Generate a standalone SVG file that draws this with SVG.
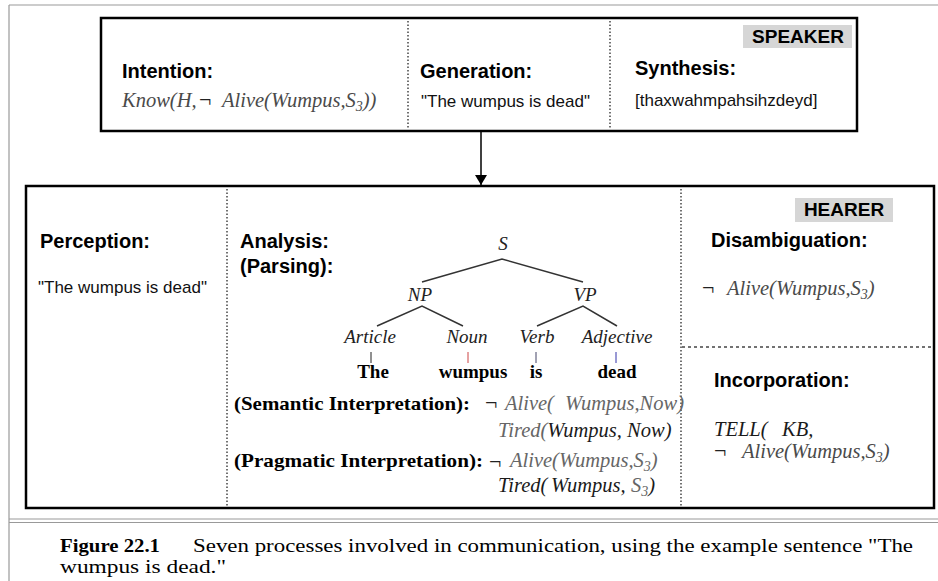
<svg xmlns="http://www.w3.org/2000/svg" width="938" height="581" viewBox="0 0 938 581">
  <style>
    .frame { fill: none; stroke: #000; stroke-width: 2.5; }
    .page { fill: none; stroke: #999; stroke-width: 1.2; }
    .dot { fill: none; stroke: #444; stroke-width: 1.5; stroke-dasharray: 1.5 2; }
    .dash { fill: none; stroke: #444; stroke-width: 1.3; stroke-dasharray: 3 3; }
    .tree { fill: none; stroke: #333; stroke-width: 1.5; }
    .head { font-family: "Liberation Sans", Arial, sans-serif; font-weight: bold; font-size: 20px; fill: #000; }
    .tag { font-family: "Liberation Sans", Arial, sans-serif; font-weight: bold; font-size: 19px; fill: #000; text-anchor: middle; }
    .tagbg { fill: #d6d6d6; }
    .body { font-family: "Liberation Sans", Arial, sans-serif; font-size: 17px; fill: #111; }
    .f { font-family: "Liberation Serif", "Times New Roman", serif; font-style: italic; font-size: 20.5px; fill: #4a4a4a; }
    .fd { fill: #1a1a1a; }
    .neg { font-family: "Liberation Serif", "Times New Roman", serif; font-style: normal; font-size: 22px; fill: #222; }
    .sub { font-size: 14px; }
    .node { font-family: "Liberation Serif", "Times New Roman", serif; font-style: italic; font-size: 19px; fill: #222; text-anchor: middle; }
    .word { font-family: "Liberation Serif", "Times New Roman", serif; font-weight: bold; font-size: 19px; fill: #000; text-anchor: middle; }
    .bt { font-family: "Liberation Serif", "Times New Roman", serif; font-weight: bold; font-size: 19px; fill: #000; }
    .cap { font-family: "Liberation Serif", "Times New Roman", serif; font-size: 18px; fill: #000; }
  </style>
  <defs>
    <marker id="arrow" viewBox="0 0 10 12" refX="10" refY="6" markerWidth="10" markerHeight="12" markerUnits="userSpaceOnUse" orient="auto">
      <path d="M0,0 L10,6 L0,12 Z" fill="#000"/>
    </marker>
  </defs>

  <!-- page frame -->
  <g id="page">
    <line class="page" x1="9" y1="5" x2="9" y2="581"/>
    <line class="page" x1="9" y1="5" x2="938" y2="5"/>
    <line class="page" x1="9" y1="519" x2="938" y2="519" stroke="#888"/>
    <line class="page" x1="9" y1="522.5" x2="938" y2="522.5" stroke="#888"/>
  </g>

  <!-- speaker side -->
  <g id="speaker">
    <rect class="frame" x="101" y="18" width="756" height="113"/>
    <line class="dot" x1="408" y1="21" x2="408" y2="129"/>
    <line class="dot" x1="610" y1="21" x2="610" y2="129"/>
    <rect class="tagbg" x="743" y="25" width="109" height="23"/>
    <text class="tag" x="798" y="43">SPEAKER</text>
  </g>

  <g id="intention">
    <text class="head" x="122" y="78">Intention:</text>
    <text class="f" x="122" y="107">Know(H,<tspan class="neg" x="199">¬</tspan><tspan x="222">Alive(Wumpus,S</tspan><tspan class="sub" dy="4">3</tspan><tspan dy="-4">))</tspan></text>
  </g>

  <g id="generation">
    <text class="head" x="420" y="78">Generation:</text>
    <text class="body" x="421" y="107">"The wumpus is dead"</text>
  </g>

  <g id="synthesis">
    <text class="head" x="635" y="75">Synthesis:</text>
    <text class="body" x="635" y="106">[thaxwahmpahsihzdeyd]</text>
  </g>

  <!-- hearer side -->
  <g id="hearer">
    <rect class="frame" x="26" y="186" width="908" height="322"/>
    <line class="dot" x1="227" y1="189" x2="227" y2="506"/>
    <line class="dot" x1="681" y1="189" x2="681" y2="506"/>
    <line class="dash" x1="682" y1="347" x2="933" y2="347"/>
    <rect class="tagbg" x="795" y="198" width="98" height="24"/>
    <text class="tag" x="844" y="216" font-size="20">HEARER</text>
  </g>

  <g id="perception">
    <text class="head" x="40" y="248">Perception:</text>
    <text class="body" x="38" y="293">"The wumpus is dead"</text>
  </g>

  <g id="analysis">
    <text class="head" x="240" y="248">Analysis:</text>
    <text class="head" x="240" y="273">(Parsing):</text>

    <!-- parse tree -->
    <text class="node" x="503" y="250">S</text>
    <text class="node" x="420" y="301">NP</text>
    <text class="node" x="585" y="301">VP</text>
    <text class="node" x="370" y="343">Article</text>
    <text class="node" x="467" y="343">Noun</text>
    <text class="node" x="537" y="343">Verb</text>
    <text class="node" x="617" y="343">Adjective</text>
    <path class="tree" d="M422,282 L502,259 L583,282 M377,326 L422,306 L463,326 M537,326 L583,306 L617,326"/>
    <line x1="371" y1="352" x2="371" y2="363" stroke="#222" stroke-width="1"/>
    <line x1="468" y1="352" x2="468" y2="363" stroke="#c44" stroke-width="1"/>
    <line x1="536" y1="352" x2="536" y2="363" stroke="#446" stroke-width="1"/>
    <line x1="616" y1="352" x2="616" y2="363" stroke="#33a" stroke-width="1"/>
    <text class="word" x="373" y="378">The</text>
    <text class="word" x="473" y="378">wumpus</text>
    <text class="word" x="536" y="378">is</text>
    <text class="word" x="617" y="378">dead</text>

    <!-- semantic interpretation -->
    <text class="bt" x="234" y="410" textLength="236" lengthAdjust="spacingAndGlyphs">(Semantic Interpretation):</text>
    <text class="f" x="485" y="410"><tspan class="neg">¬</tspan><tspan x="505" fill="#666">Alive(</tspan><tspan x="565" fill="#666">Wumpus,Now)</tspan></text>
    <text class="f" x="498" y="437"><tspan fill="#666">Tired(</tspan><tspan class="fd">Wumpus, Now)</tspan></text>

    <!-- pragmatic interpretation -->
    <text class="bt" x="234" y="467" textLength="249" lengthAdjust="spacingAndGlyphs">(Pragmatic Interpretation):</text>
    <text class="f" x="489" y="469"><tspan class="neg">¬</tspan><tspan x="510" y="467" fill="#666">Alive(Wumpus,S</tspan><tspan class="sub" dy="4" fill="#666">3</tspan><tspan dy="-4" fill="#666">)</tspan></text>
    <text class="f" x="498" y="492"><tspan class="fd">Tired(</tspan><tspan class="fd" x="551">Wumpus,</tspan><tspan x="631" fill="#666">S</tspan><tspan class="sub" dy="4" fill="#666">3</tspan><tspan class="fd" dy="-4">)</tspan></text>
  </g>

  <g id="disambiguation">
    <text class="head" x="711" y="247">Disambiguation:</text>
    <text class="f" x="702" y="295"><tspan class="neg">¬</tspan><tspan x="727">Alive(Wumpus,S</tspan><tspan class="sub" dy="4">3</tspan><tspan dy="-4">)</tspan></text>
  </g>

  <g id="incorporation">
    <text class="head" x="714" y="387">Incorporation:</text>
    <text class="f fd" x="714" y="436">TELL(<tspan x="782">KB,</tspan></text>
    <text class="f" x="714" y="458"><tspan class="neg">¬</tspan><tspan x="742">Alive(Wumpus,S</tspan><tspan class="sub" dy="4">3</tspan><tspan dy="-4">)</tspan></text>
  </g>

  <!-- connectors -->
  <g id="connectors">
    <line x1="481" y1="131" x2="481" y2="185" stroke="#000" stroke-width="1.5" marker-end="url(#arrow)"/>
  </g>

  <!-- caption -->
  <g id="caption">
    <text class="cap" x="60" y="552" font-weight="bold" textLength="100" lengthAdjust="spacingAndGlyphs">Figure 22.1</text>
    <text class="cap" x="193" y="552" textLength="720" lengthAdjust="spacingAndGlyphs">Seven processes involved in communication, using the example sentence "The</text>
    <text class="cap" x="60" y="573" textLength="166" lengthAdjust="spacingAndGlyphs">wumpus is dead."</text>
  </g>
</svg>
